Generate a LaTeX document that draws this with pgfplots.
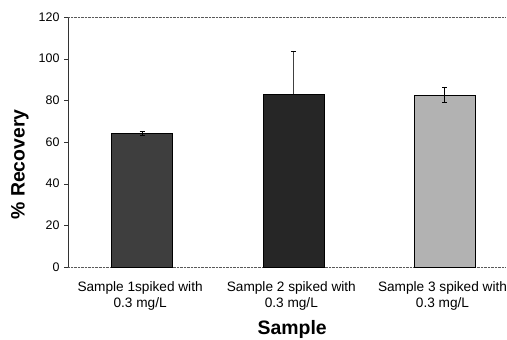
\documentclass[border=0pt]{standalone}
\usepackage{fontspec}
\setmainfont{Liberation Sans}
\usepackage{pgfplots}
\pgfplotsset{compat=1.18}
\definecolor{barA}{RGB}{62,62,62}
\definecolor{barB}{RGB}{38,38,38}
\definecolor{barC}{RGB}{178,178,178}
\begin{document}
\begin{tikzpicture}[x=1bp,y=1bp]
\useasboundingbox (0,0) rectangle (507,339);
\begin{axis}[
  at={(68bp,72bp)}, anchor=south west,
  scale only axis, width=437bp, height=250bp,
  xmin=-0.49, xmax=2.40, ymin=0, ymax=120,
  ytick={0,20,...,120},
  xtick={0,1,2},
  xticklabels={{Sample 1spiked with\\0.3 mg/L},{Sample 2 spiked with\\0.3 mg/L},{Sample 3 spiked with\\0.3 mg/L}},
  axis x line*=bottom, axis y line*=left,
  x axis line style={densely dotted, gray!70!black, -},
  y axis line style={gray!40!black, -},
  tick align=outside,
  major tick length=4bp,
  x tick style={draw=none},
  y tick style={gray!40!black},
  /pgf/number format/assume math mode=true,
  yticklabel style={font=\fontsize{12.5}{14}\selectfont, xshift=-1bp},
  xticklabel style={font=\fontsize{13.7}{16}\selectfont, align=center, anchor=north, yshift=-7bp, xshift=-2bp},
  xlabel={\textbf{Sample}},
  ylabel={\textbf{\% Recovery}},
  xlabel style={font=\fontsize{19.5}{22}\selectfont, at={(axis description cs:0.513,0)}, anchor=base, yshift=-67bp},
  ylabel style={font=\fontsize{19.5}{22}\selectfont, at={(axis description cs:0,0.41)}, anchor=center, yshift=48bp},
  clip=false,
]
\draw[densely dotted, gray!70!black] (rel axis cs:0,1) -- (rel axis cs:1,1);
\addplot[ybar, bar width=61bp, fill=barA, draw=black, line width=0.5pt,
  error bars/.cd, y dir=both, y explicit,
  error bar style={black, line width=0.7pt},
  error mark options={rotate=90, mark size=2.5bp, black, line width=0.7pt}]
  coordinates {(0,64.2) +- (0,1.0)};
\addplot[ybar, bar width=61bp, fill=barB, draw=black, line width=0.5pt,
  error bars/.cd, y dir=plus, y explicit,
  error bar style={black!75, line width=0.7pt},
  error mark options={rotate=90, mark size=2.5bp, black, line width=0.7pt}]
  coordinates {(1,83.0) +- (0,20.4)};
\addplot[ybar, bar width=61bp, fill=barC, draw=black, line width=0.5pt,
  error bars/.cd, y dir=both, y explicit,
  error bar style={black, line width=0.7pt},
  error mark options={rotate=90, mark size=2.5bp, black, line width=0.7pt}]
  coordinates {(2,82.6) +- (0,3.8)};
\end{axis}
\end{tikzpicture}
\end{document}
